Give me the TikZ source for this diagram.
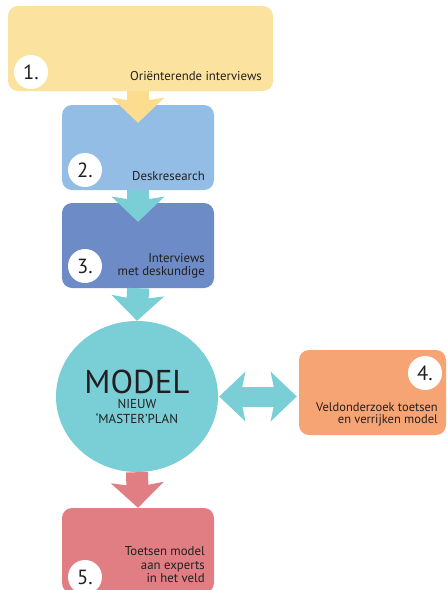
\documentclass[tikz,border=0pt]{standalone}
\usepackage{fontspec}
\setmainfont{PT Sans}
\usetikzlibrary{arrows.meta,shapes.geometric}

\definecolor{ink}{HTML}{231F20}
\definecolor{sand}{HTML}{FBE39F}
\definecolor{sandarrow}{HTML}{FCDC8E}
\definecolor{skyblue}{HTML}{93BDE5}
\definecolor{slateblue}{HTML}{6D8BC7}
\definecolor{aqua}{HTML}{7ACED6}
\definecolor{peach}{HTML}{F7A474}
\definecolor{rose}{HTML}{E07E84}

\begin{document}
\begin{tikzpicture}[x=1pt,y=-1pt,
  stepbox/.style={rectangle, rounded corners=10pt, inner sep=0pt,
    minimum width=152pt, minimum height=85pt},
  numdisc/.style={circle, fill=white, minimum size=34pt, inner sep=0pt,
    font=\fontsize{20.5}{20.5}\selectfont, text=ink},
  steplabel/.style={anchor=south east, align=right, inner sep=0pt,
    text depth=0pt, font=\fontsize{12.8}{13.8}\selectfont, text=ink},
  flow/.style={line width=22pt, -{Stealth[length=25pt,width=52pt,inset=4pt]}},
  twoway/.style={line width=20pt,
    {Stealth[length=26pt,width=49pt,inset=5pt]}-{Stealth[length=26pt,width=49pt,inset=5pt]}},
]
\clip (0,0) rectangle (447,590);

% step boxes
\node[stepbox, fill=sand, minimum width=265pt] (b1) at (140.5,48.5) {};
\node[stepbox, fill=skyblue] (b2) at (138,147.5) {};
\node[stepbox, fill=slateblue] (b3) at (138,245.5) {};
\node[ellipse, fill=aqua, minimum width=162pt, minimum height=151pt, inner sep=0pt,
  align=center, text=ink, font=\fontsize{13}{14.5}\selectfont] (model) at (137,396.5)
  {{\fontsize{33}{33}\selectfont MODEL}\\[1pt]NIEUW\\‘MASTER’PLAN};
\node[stepbox, fill=peach, minimum width=147pt] (b4) at (372.5,392.5) {};
\node[stepbox, fill=rose] (b5) at (138,550.5) {};

% flow arrows
\draw[flow, sandarrow] (b1.south -| b2.north) -- ([yshift=-18pt]b2.north);
\draw[flow, aqua] (b2.south) -- ([yshift=-19pt]b3.north);
\draw[flow, aqua] (b3.south) -- (model.north);
\draw[flow, rose] (model.south) -- (b5.north);
\draw[twoway, aqua] ([xshift=1pt]model.east) -- ([xshift=-2pt]model.east -| b4.west);

% step numbers
\node[numdisc] (n1) at (31,72) {1.};
\node[numdisc] (n2) at (85,170) {2.};
\node[numdisc] (n3) at (85,266) {3.};
\node[numdisc] (n4) at (425,373) {4.};
\node[numdisc] (n5) at (85,577) {5.};

% step texts
\node[steplabel] (t1) at (262,80.5) {Oriënterende interviews};
\node[steplabel] (t2) at (205,181) {Deskresearch};
\node[steplabel] (t3) at (205,276) {Interviews\\met deskundige};
\node[steplabel, font=\fontsize{12.5}{12.5}\selectfont] (t4) at (438,424) {Veldonderzoek toetsen\\en verrijken model};
\node[steplabel] (t5) at (205,583) {Toetsen model\\aan experts\\in het veld};
\end{tikzpicture}
\end{document}
